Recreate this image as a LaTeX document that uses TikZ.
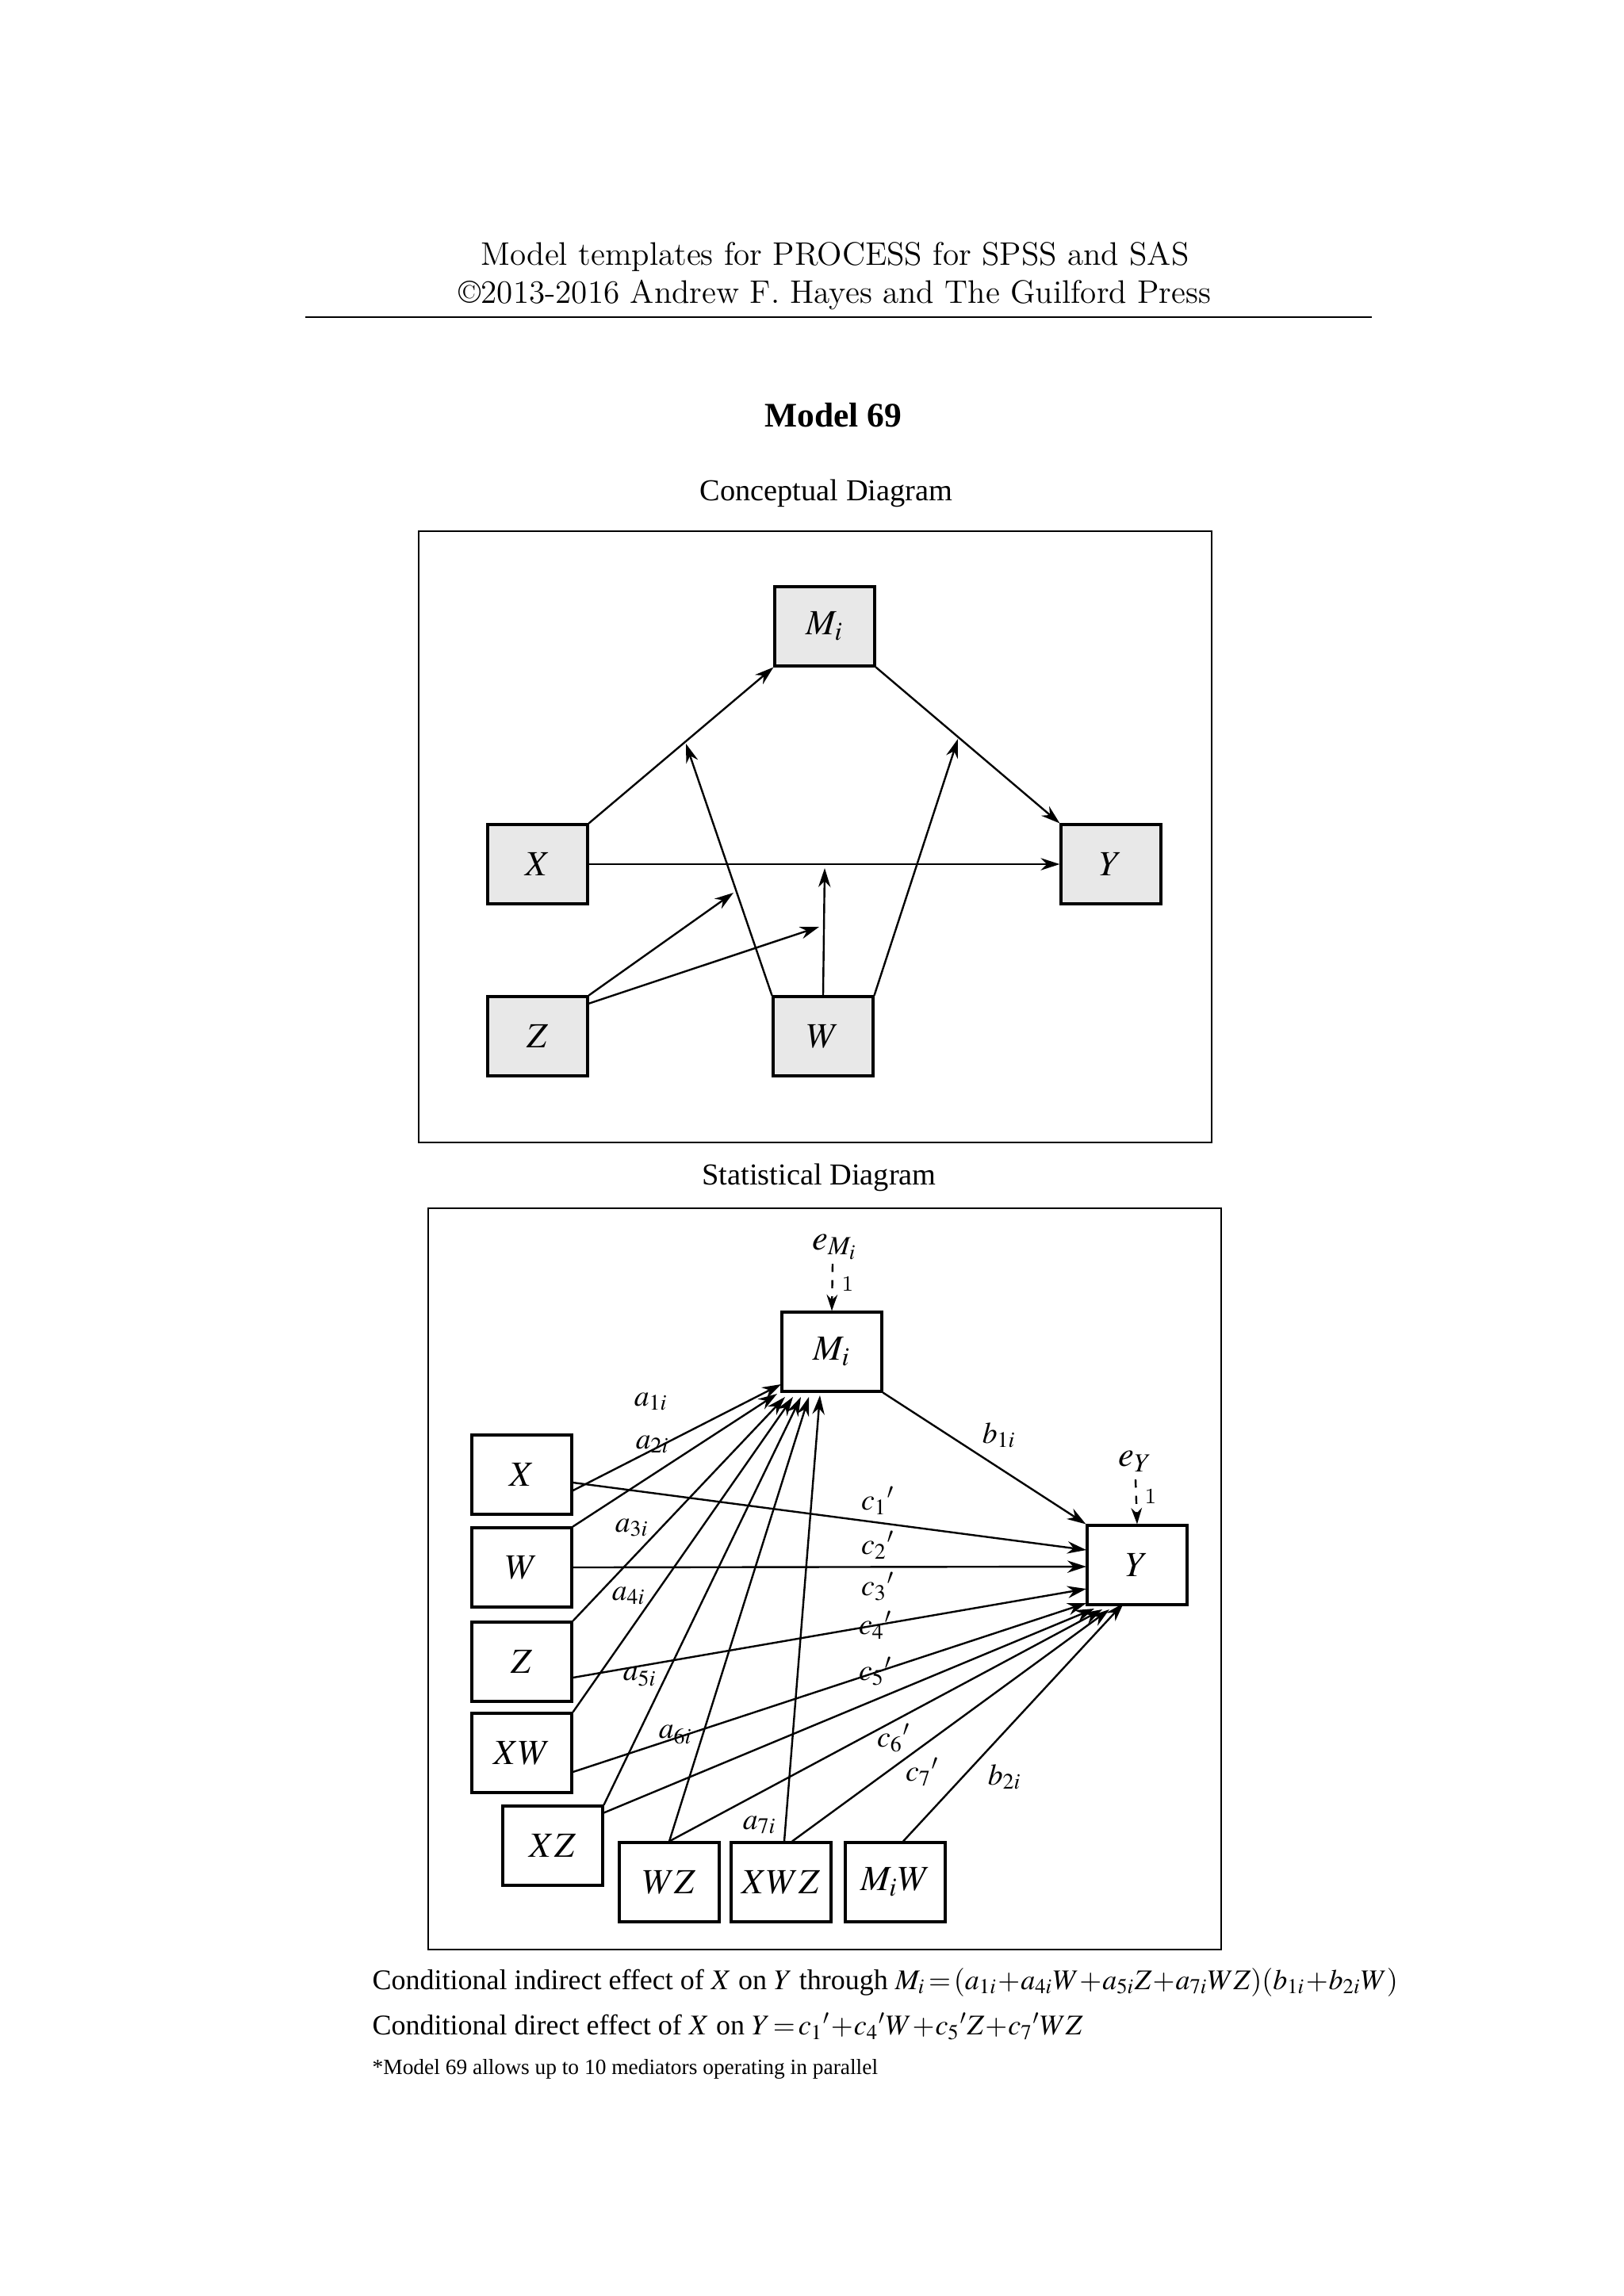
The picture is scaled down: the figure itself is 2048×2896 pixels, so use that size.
\documentclass[tikz,border=0pt]{standalone}
\usepackage{mathptmx}
\usepackage{fontspec}
\newfontfamily\tms{Liberation Serif}
\usetikzlibrary{arrows.meta}
\begin{document}
\begin{tikzpicture}[x=0.29067bp,y=-0.29067bp,
  cbox/.style={draw,line width=0.9pt,fill=gray!18,minimum width=126*0.29067bp,minimum height=100*0.29067bp,inner sep=0pt,font=\fontsize{13}{15}\selectfont},
  sbox/.style={draw,line width=0.9pt,fill=white,minimum width=126*0.29067bp,minimum height=100*0.29067bp,inner sep=0pt,font=\fontsize{13}{15}\selectfont},
  arr/.style={line width=0.7pt,-{Stealth[length=7pt,width=4.5pt]}},
  lab/.style={font=\fontsize{11}{13}\selectfont,inner sep=0pt}]
\useasboundingbox (0,0) rectangle (2048,2896);
% header
\node (h1) at (1053,324) {\fontsize{12}{14}\selectfont Model templates for PROCESS for SPSS and SAS};
\node (h2) at (1053,372) {\fontsize{12}{14}\selectfont \textcopyright2013-2016 Andrew F. Hayes and The Guilford Press};
\draw[line width=0.6pt] (385,400) -- (1730,400);
\node (title) at (1051,524) {\tms\bfseries\fontsize{12.7}{15}\selectfont Model 69};
\node (cd) at (1042,622) {\tms\fontsize{11.2}{14}\selectfont Conceptual Diagram};
\draw[line width=0.8pt] (528,670) rectangle (1528,1441);
% conceptual
\node[cbox] (M) at (1040,790) {$M_i$};
\node[cbox] (X) at (678,1090) {$X$};
\node[cbox] (Y) at (1401,1090) {$Y$};
\node[cbox] (Z) at (678,1307) {$Z$};
\node[cbox] (W) at (1038,1307) {$W$};
\coordinate (p1) at (865,938);
\coordinate (p2) at (1208,932);
\coordinate (p3) at (1040,1095);
\coordinate (p4) at (925,1126);
\coordinate (p5) at (1033,1169);
\draw[arr] (X.north east) -- (M.south west);
\draw[arr] (M.south east) -- (Y.north west);
\draw[arr] (X.east) -- (Y.west);
\draw[arr] (W.north west) -- (p1);
\draw[arr] (W.north east) -- (p2);
\draw[arr] (W.north) -- (p3);
\draw[arr] (Z.north east) -- (p4);
\draw[arr] ([yshift=-3]Z.north east) -- (p5);
% statistical
\begin{scope}[yshift=10*0.29067bp]
\node (sd) at (1033,1495) {\tms\fontsize{11.2}{14}\selectfont Statistical Diagram};
\draw[line width=0.8pt] (540,1534) rectangle (1540,2469);
\node[sbox] (SM) at (1049,1715) {$M_i$};
\node[sbox] (SY) at (1434,1984) {$Y$};
\node[sbox] (SX) at (658,1870) {$X$};
\node[sbox] (SW) at (658,1987) {$W$};
\node[sbox] (SZ) at (658,2106) {$Z$};
\node[sbox] (SXW) at (658,2221) {$XW$};
\node[sbox] (SXZ) at (697,2338) {$XZ$};
\node[sbox] (SWZ) at (844,2384) {$WZ$};
\node[sbox] (SXWZ) at (985,2384) {$XWZ$};
\node[sbox] (SMW) at (1129,2384) {$M_iW$};
\node[lab,font=\fontsize{13}{15}\selectfont] (eM) at (1053,1583) {$e_{M_i}$};
\node[lab,font=\fontsize{13}{15}\selectfont] (eY) at (1432,1853) {$e_Y$};
\draw[line width=0.7pt,dashed,-{Stealth[length=6pt,width=4pt]}] (1050,1604) -- (SM.north);
\draw[line width=0.7pt,dashed,-{Stealth[length=6pt,width=4pt]}] (1432,1876) -- (SY.north);
\node[lab,font=\fontsize{8}{9}\selectfont] at (1069,1629) {1};
\node[lab,font=\fontsize{8}{9}\selectfont] at (1451,1897) {1};
% to M
\coordinate (m1) at (985,1756);
\coordinate (m2) at (980,1768);
\coordinate (m3) at (990,1772);
\coordinate (m4) at (1000,1772);
\coordinate (m5) at (1010,1772);
\coordinate (m6) at (1020,1772);
\coordinate (m7) at (1034,1770);
\draw[arr] ([yshift=-20*0.29067bp]SX.east) -- (m1);
\draw[arr] (SW.north east) -- (m2);
\draw[arr] (SZ.north east) -- (m3);
\draw[arr] (SXW.north east) -- (m4);
\draw[arr] (SXZ.north east) -- (m5);
\draw[arr] (SWZ.north) -- (m6);
\draw[arr] ([xshift=4*0.29067bp]SXWZ.north) -- (m7);
% to Y
\coordinate (y1) at (1370,1965);
\coordinate (y2) at (1370,1986);
\coordinate (y3) at (1370,2014);
\coordinate (y4) at (1370,2032);
\coordinate (y5) at (1380,2039);
\coordinate (y6) at (1390,2040);
\coordinate (y7) at (1399,2040);
\coordinate (y8) at (1417,2032);
\draw[arr] (SM.south east) -- (SY.north west);
\draw[arr] ([yshift=-10*0.29067bp]SX.east) -- (y1);
\draw[arr] (SW.east) -- (y2);
\draw[arr] ([yshift=-20*0.29067bp]SZ.east) -- (y3);
\draw[arr] ([yshift=-24*0.29067bp]SXW.east) -- (y4);
\draw[arr] ([yshift=-10*0.29067bp]SXZ.north east) -- (y5);
\draw[arr] (SWZ.north) -- (y6);
\draw[arr] ([xshift=14*0.29067bp]SXWZ.north) -- (y7);
\draw[arr] ([xshift=10*0.29067bp]SMW.north) -- (y8);
% labels
\node[lab] at (821,1778) {$a_{1i}$};
\node[lab] at (823,1832) {$a_{2i}$};
\node[lab] at (797,1937) {$a_{3i}$};
\node[lab] at (793,2023) {$a_{4i}$};
\node[lab] at (807,2125) {$a_{5i}$};
\node[lab] at (852,2198) {$a_{6i}$};
\node[lab] at (958,2312) {$a_{7i}$};
\node[lab] at (1260,1820) {$b_{1i}$};
\node[lab] at (1267,2251) {$b_{2i}$};
\node[lab] at (1107,1903) {$c_1{}'$};
\node[lab] at (1107,1959) {$c_2{}'$};
\node[lab] at (1107,2011) {$c_3{}'$};
\node[lab] at (1104,2060) {$c_4{}'$};
\node[lab] at (1104,2118) {$c_5{}'$};
\node[lab] at (1127,2202) {$c_6{}'$};
\node[lab] at (1163,2245) {$c_7{}'$};
\end{scope}
% footer
\node[anchor=west,inner sep=0pt] (f1) at (469,2500) {\tms\fontsize{10.5}{13}\selectfont Conditional indirect effect of $X$ on $Y$ through $M_i\!=\!(a_{1i}\!+\!a_{4i}W\!+\!a_{5i}Z\!+\!a_{7i}WZ)(b_{1i}\!+\!b_{2i}W)$};
\node[anchor=west,inner sep=0pt] (f2) at (469,2556) {\tms\fontsize{10.5}{13}\selectfont Conditional direct effect of $X$ on $Y\!=\!c_1{}'\!+\!c_4{}'W\!+\!c_5{}'Z\!+\!c_7{}'WZ$};
\node[anchor=west,inner sep=0pt] (f3) at (469,2610) {\tms\fontsize{8}{10}\selectfont *Model 69 allows up to 10 mediators operating in parallel};
\end{tikzpicture}
\end{document}
